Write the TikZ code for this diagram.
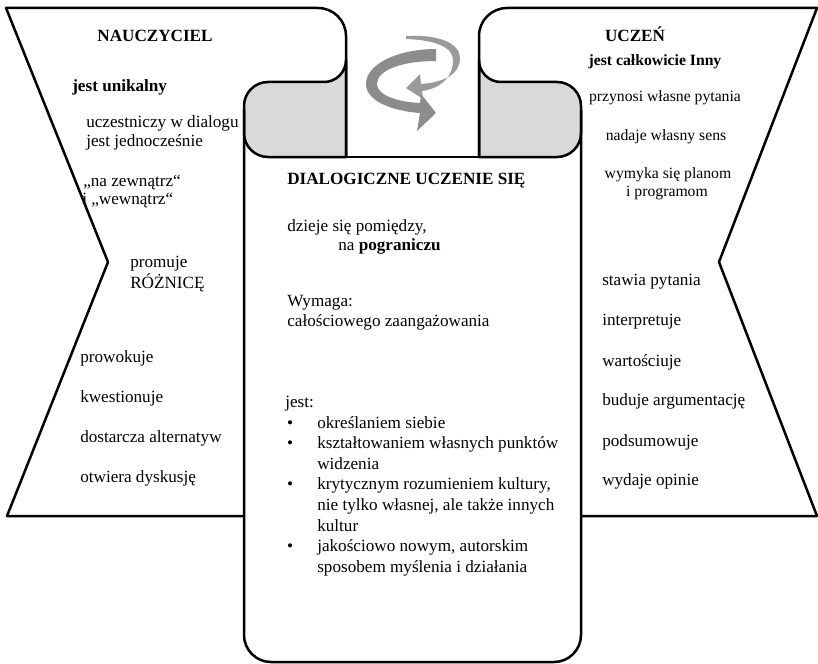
\documentclass[tikz,border=0pt]{standalone}
\usepackage{fontspec}
\setmainfont{Liberation Serif}
\definecolor{rollgray}{HTML}{D9D9D9}
\definecolor{arrowA}{HTML}{8C8C8C}
\definecolor{arrowB}{HTML}{9A9A9A}
\begin{document}
\begin{tikzpicture}[x=0.7pt,y=-0.7pt,line join=round,
  outl/.style={line width=1.75pt},
  txt/.style={anchor=base west,inner sep=0pt,font=\fontsize{12}{14}\selectfont},
  txtb/.style={anchor=base west,inner sep=0pt,font=\fontsize{12}{14}\selectfont\bfseries},
  txts/.style={anchor=base,inner sep=0pt,font=\fontsize{11}{13}\selectfont},
  txtbs/.style={anchor=base,inner sep=0pt,font=\fontsize{11}{13}\selectfont\bfseries},
  bul/.style={anchor=base,inner sep=0pt,font=\fontsize{12}{14}\selectfont}]
\useasboundingbox (0,0) rectangle (818,664);

% gray rolls
\filldraw[outl,fill=rollgray] (346,60) arc[start angle=0,end angle=90,radius=22] -- (268,82)
  arc[start angle=-90,end angle=-180,radius=24] -- (244,133)
  arc[start angle=180,end angle=90,radius=24] -- (346,157) -- cycle;
\filldraw[outl,fill=rollgray] (479,60) arc[start angle=180,end angle=90,radius=22] -- (557,82)
  arc[start angle=-90,end angle=0,radius=24] -- (581,133)
  arc[start angle=0,end angle=90,radius=24] -- (479,157) -- cycle;

% left shape
\draw[outl] (244,516) -- (7,516) -- (108,262) -- (6,8) -- (318,8)
  arc[start angle=-90,end angle=0,radius=28] -- (346,157);
% right shape
\draw[outl] (581,516) -- (817,516) -- (719,262) -- (817,8) -- (507,8)
  arc[start angle=-90,end angle=-180,radius=28] -- (479,157);
% middle top line
\draw[outl] (346,157) -- (479,157);
% central body
\draw[outl] (244,110) -- (244,635) arc[start angle=180,end angle=90,radius=27] -- (554,662)
  arc[start angle=90,end angle=0,radius=27] -- (581,110);

% rotating arrow
\fill[arrowB] (406,36) .. controls (440,34) and (460,44) .. (460,58)
  .. controls (460,74) and (445,82) .. (421,84) -- (420,74) -- (406,88) -- (423,99) -- (422,91)
  .. controls (445,88) and (454,72) .. (453,59) .. controls (452,47) and (435,40) .. (406,39) -- cycle;
\fill[arrowA] (436,49) .. controls (398,49) and (366,64) .. (366,84)
  .. controls (366,101) and (392,111) .. (420,113) -- (417,131) -- (436,113) -- (421,94) -- (420,103)
  .. controls (397,102) and (377,95) .. (377,84) .. controls (377,70) and (402,61) .. (436,61) -- cycle;

% left texts
\node[txtb,anchor=base] (nauczyciel) at (155,42) {NAUCZYCIEL};
\node[txtb] (unik) at (72,91) {jest unikalny};
\node[txt] (l1) at (86,128) {uczestniczy w dialogu};
\node[txt] (l2) at (86,147) {jest jednocześnie};
\node[txt] (l3) at (83,186) {„na zewnątrz“};
\node[txt] (l4) at (82,204) {i „wewnątrz“};
\node[txt] (l5) at (130,267) {promuje};
\node[txt] (l6) at (130,288) {RÓŻNICĘ};
\node[txt] (l7) at (80,362) {prowokuje};
\node[txt] (l8) at (80,402) {kwestionuje};
\node[txt] (l9) at (80,442) {dostarcza alternatyw};
\node[txt] (l10) at (80,482) {otwiera dyskusję};

% right texts
\node[txtb,anchor=base] (uczen) at (635,42) {UCZEŃ};
\node[txtbs] (inny) at (655,66) {jest całkowicie Inny};
\node[txts] (r1) at (665,102) {przynosi własne pytania};
\node[txts] (r2) at (666,140) {nadaje własny sens};
\node[txts] (r3) at (668,178) {wymyka się planom};
\node[txts] (r4) at (667,196) {i programom};
\node[txt] (r5) at (602,285) {stawia pytania};
\node[txt] (r6) at (602,325) {interpretuje};
\node[txt] (r7) at (602,366) {wartościuje};
\node[txt] (r8) at (602,405) {buduje argumentację};
\node[txt] (r9) at (602,446) {podsumowuje};
\node[txt] (r10) at (602,485) {wydaje opinie};

% center texts
\node[txtb] (title) at (287,185) {DIALOGICZNE UCZENIE SIĘ};
\node[txt] (c1) at (287,231) {dzieje się pomiędzy,};
\node[txt] (c2) at (338,250) {na \textbf{pograniczu}};
\node[txt] (c3) at (287,306) {Wymaga:};
\node[txt] (c4) at (287,326) {całościowego zaangażowania};
\node[txt] (c5) at (285,407) {jest:};
\node[bul] (b1) at (290,428) {\textbullet};
\node[txt] (c6) at (317,428) {określaniem siebie};
\node[bul] (b2) at (290,448.6) {\textbullet};
\node[txt] (c7) at (317,448.6) {kształtowaniem własnych punktów};
\node[txt] (c8) at (317,469.2) {widzenia};
\node[bul] (b3) at (290,489.8) {\textbullet};
\node[txt] (c9) at (317,489.8) {krytycznym rozumieniem kultury,};
\node[txt] (c10) at (317,510.4) {nie tylko własnej, ale także innych};
\node[txt] (c11) at (317,531) {kultur};
\node[bul] (b4) at (290,551.6) {\textbullet};
\node[txt] (c12) at (317,551.6) {jakościowo nowym, autorskim};
\node[txt] (c13) at (317,572.2) {sposobem myślenia i działania};
\end{tikzpicture}
\end{document}
